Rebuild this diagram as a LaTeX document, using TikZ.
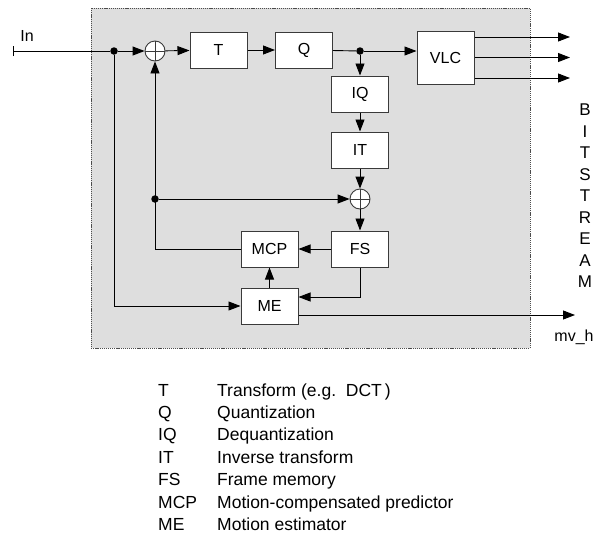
\documentclass[tikz,border=0pt]{standalone}
\usepackage{fontspec}
\setmainfont{Liberation Sans}
\usepackage{tikz}
\usetikzlibrary{arrows.meta, positioning, calc}
\definecolor{bg}{HTML}{DEDEDE}
\definecolor{ln}{HTML}{3A3A3A}

\begin{document}
\begin{tikzpicture}[
      x=1pt, y=-1pt,
      font=\fontsize{16}{18}\selectfont,
      blk/.style={draw=ln, fill=white, line width=1pt, minimum width=57pt,
                  minimum height=36pt, inner sep=0pt},
      sum/.style={circle, draw=ln, fill=white, line width=0.9pt,
                  minimum size=20pt, inner sep=0pt,
                  path picture={\draw[ln, line width=0.8pt]
                    (path picture bounding box.north) -- (path picture bounding box.south)
                    (path picture bounding box.west) -- (path picture bounding box.east);}},
      dot/.style={circle, fill=black, minimum size=7.5pt, inner sep=0pt},
      ln/.style={line width=0.9pt},
      arr/.style={ln, -{Triangle[length=12pt, width=9pt]}},
      lg/.style={anchor=base west, inner sep=0pt, font=\fontsize{17.5}{20}\selectfont},
    ]
    \useasboundingbox (0,0) rectangle (600,536);
    % coder frame
    \draw[fill=bg, draw=black!70, line width=0.7pt, dash pattern=on 1.2pt off 0.9pt]
      (91,8) rectangle (530,348);

    % blocks
    \node[blk] (T) at (218.5,50) {T};
    \node[blk] (Q) at (304,50) {Q};
    \node[blk, minimum height=53pt] (VLC) at (445.5,57.5) {VLC};
    \node[blk] (IQ) at (360,94) {IQ};
    \node[blk] (IT) at (360,150) {IT};
    \node[blk] (MCP) at (269.5,249) {MCP};
    \node[blk] (FS) at (360,249) {FS};
    \node[blk] (ME) at (269.5,306) {ME};
    \node[sum] (S1) at (155,51) {};
    \node[sum] (S2) at (360,199) {};

    % branch points and free ends
    \node[dot] (d1) at (114,51) {};
    \node[dot] (d2) at (360,51) {};
    \node[dot] (d3) at (155,199) {};
    \coordinate (in) at (13,51);
    \coordinate (mv) at (575,315);
    \foreach \i/\y in {1/37, 2/57.5, 3/78}
      \coordinate (o\i) at (570,\y);

    % forward path
    \draw[ln, {Bar[width=10pt]}-] (in) -- (d1);
    \draw[arr] (d1) -- (S1);
    \draw[arr] (S1) -- (T);
    \draw[arr] (T) -- (Q);
    \draw[ln] (Q) -- (d2);
    \draw[arr] (d2) -- (d2 -| VLC.west);
    \foreach \i in {1,2,3}
      \draw[arr] (VLC.east |- o\i) -- (o\i);

    % local decoder loop
    \draw[arr] (d2) -- (IQ);
    \draw[arr] (IQ) -- (IT);
    \draw[arr] (IT) -- (S2);
    \draw[arr] (S2) -- (FS);
    \draw[arr] (FS) -- (MCP);
    \draw[arr] (ME) -- (MCP);
    \draw[arr] (FS.south) |- ([yshift=9pt]ME.east);
    \draw[arr] (MCP.west) -| (S1.south);
    \draw[arr] (d3) -- (S2.west);
    \draw[arr] (d1) |- (ME.west);
    \draw[arr] ([yshift=-9pt]ME.east) -- (mv);

    % labels
    \node (lin) at (27,36) {In};
    \node (lmv) at (574,337) {mv\_h};
    \foreach \c [count=\n from 0] in {B,I,T,S,T,R,E,A,M}
      \node[font=\fontsize{17}{19}\selectfont] (b\n) at (585,110+21.5*\n) {\c};

    % legend
    \foreach \ab/\txt [count=\n from 0] in {T/{Transform (e.g.\ \ DCT\,)},
        Q/Quantization, IQ/Dequantization, IT/Inverse transform,
        FS/Frame memory, MCP/Motion-compensated predictor, ME/Motion estimator} {
      \node[lg] (a\n) at (158,396+22.4*\n) {\ab};
      \node[lg] (t\n) at (217,396+22.4*\n) {\txt};
    }
\end{tikzpicture}
\end{document}
